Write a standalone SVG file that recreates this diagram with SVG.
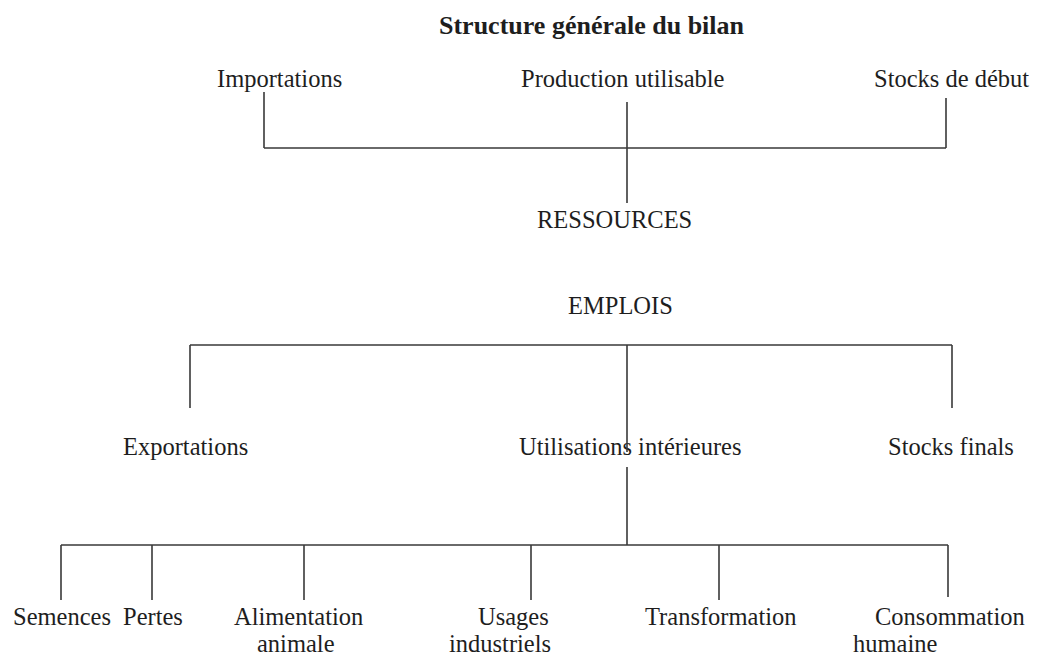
<svg xmlns="http://www.w3.org/2000/svg" width="1039" height="655" viewBox="0 0 1039 655">
<style>
.t{font-family:"Liberation Serif","Times New Roman",serif;font-size:24.5px;fill:#1e1e1e}
.title{font-family:"Liberation Serif","Times New Roman",serif;font-size:26px;font-weight:bold;fill:#1e1e1e}
.c{stroke:#3a3a3a;stroke-width:1.6;fill:none}
</style>
<rect width="1039" height="655" fill="#fff"/>
<g id="title"><text class="title" x="439" y="34">Structure générale du bilan</text></g>
<g id="importations"><text class="t" x="217" y="87">Importations</text></g>
<g id="production"><text class="t" x="521" y="87">Production utilisable</text></g>
<g id="stocks-debut"><text class="t" x="874" y="87">Stocks de début</text></g>
<g id="ressources"><text class="t" x="537" y="228">RESSOURCES</text></g>
<g id="emplois"><text class="t" x="568" y="314">EMPLOIS</text></g>
<g id="exportations"><text class="t" x="123" y="455">Exportations</text></g>
<g id="utilisations"><text class="t" x="519" y="455">Utilisations intérieures</text></g>
<g id="stocks-finals"><text class="t" x="888" y="455">Stocks finals</text></g>
<g id="semences"><text class="t" x="13" y="625">Semences</text></g>
<g id="pertes"><text class="t" x="123" y="625">Pertes</text></g>
<g id="alimentation"><text class="t" x="234" y="625">Alimentation</text><text class="t" x="257" y="652">animale</text></g>
<g id="usages"><text class="t" x="478" y="625">Usages</text><text class="t" x="449" y="652">industriels</text></g>
<g id="transformation"><text class="t" x="645" y="625">Transformation</text></g>
<g id="consommation"><text class="t" x="875" y="625">Consommation</text><text class="t" x="853" y="652">humaine</text></g>
<g id="connectors">
<path class="c" d="M264 92V148M264 148H946M946 98V148M627 102V203"/>
<path class="c" d="M190 345H952M190 345V408M952 345V408M627 345V452"/>
<path class="c" d="M627 467V545M61 545H948M61 545V600M152 545V600M304 545V600M531 545V600M719 545V600M948 545V597"/>
</g>
</svg>
